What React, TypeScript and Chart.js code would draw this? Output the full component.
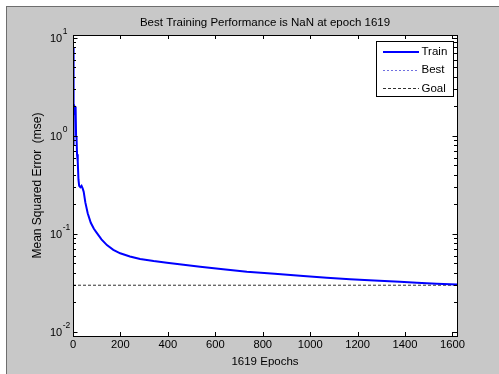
import React, { useEffect, useRef } from 'react';
import { Chart, registerables } from 'chart.js';

Chart.register(...registerables);

// ---- data ----
const trainEpochs = [0, 1, 2, 3, 4, 6, 9, 11, 13, 15, 17, 20, 23, 26, 31, 36, 41, 45, 52, 62, 75, 88, 101, 120, 143, 170, 199, 240, 283, 340, 396, 466, 536, 633, 733, 850, 971, 1070, 1168, 1270, 1378, 1450, 1533, 1619];
const trainPerf = [8.0, 3.0, 1.5, 0.8, 1.6, 2.0, 1.9, 2.0, 1.0, 0.95, 0.65, 0.55, 0.36, 0.31, 0.30, 0.31, 0.29, 0.27, 0.21, 0.163, 0.13, 0.113, 0.102, 0.088, 0.077, 0.069, 0.0635, 0.059, 0.0556, 0.053, 0.051, 0.0485, 0.0464, 0.0437, 0.0412, 0.0392, 0.0373, 0.0358, 0.0345, 0.0335, 0.0325, 0.0318, 0.0311, 0.0306];
const goalValue = 0.03;
const totalEpochs = 1619;
const xTickValues = [0, 200, 400, 600, 800, 1000, 1200, 1400, 1600];
const yMajorTicks = [0.01, 0.1, 1, 10];
const yTickExponents = ['-2', '-1', '0', '1'];
const yMin = 0.0091;
const yMax = 10.73;
const legendLabels = ['Train', 'Best', 'Goal'];
const titleText = 'Best Training Performance is NaN at epoch 1619';
const xTitle = '1619 Epochs';
const yTitle = 'Mean Squared Error  (mse)';

const FONT = '"Liberation Sans", Arial, Helvetica, sans-serif';
const TRAIN_COLOR = '#0000ff';
const BEST_COLOR = '#7070e0';
const GOAL_COLOR = '#303030';

const matlabPlugin = {
  id: 'matlabAxes',
  beforeDraw(chart: any) {
    const { ctx, chartArea: a } = chart;
    ctx.save();
    ctx.fillStyle = '#ffffff';
    ctx.fillRect(a.left, a.top, a.right - a.left, a.bottom - a.top);
    ctx.restore();
  },
  afterDraw(chart: any) {
    const { ctx, chartArea: a } = chart;
    const xs = chart.scales.x;
    const ys = chart.scales.y;
    ctx.save();
    ctx.strokeStyle = '#000000';
    ctx.lineWidth = 1;
    ctx.beginPath();
    xTickValues.forEach((v) => {
      const px = Math.round(xs.getPixelForValue(v)) + 0.5;
      ctx.moveTo(px, a.bottom);
      ctx.lineTo(px, a.bottom - 4);
      ctx.moveTo(px, a.top);
      ctx.lineTo(px, a.top + 4);
    });
    const minors: number[] = [];
    yMajorTicks.slice(0, 3).forEach((d) => {
      for (let k = 2; k <= 9; k++) minors.push(d * k);
    });
    yMajorTicks.forEach((v) => {
      const py = Math.round(ys.getPixelForValue(v)) + 0.5;
      ctx.moveTo(a.left, py);
      ctx.lineTo(a.left + 4.5, py);
      ctx.moveTo(a.right, py);
      ctx.lineTo(a.right - 4.5, py);
    });
    minors.forEach((v) => {
      const py = Math.round(ys.getPixelForValue(v)) + 0.5;
      ctx.moveTo(a.left, py);
      ctx.lineTo(a.left + 3, py);
      ctx.moveTo(a.right, py);
      ctx.lineTo(a.right - 3, py);
    });
    ctx.stroke();
    ctx.strokeRect(Math.round(a.left) + 0.5, Math.round(a.top) + 0.5, Math.round(a.right - a.left), Math.round(a.bottom - a.top));

    // y tick labels 10^n
    ctx.fillStyle = '#000000';
    ctx.textBaseline = 'middle';
    ctx.textAlign = 'left';
    yMajorTicks.forEach((v, i) => {
      const py = ys.getPixelForValue(v);
      ctx.font = `11px ${FONT}`;
      ctx.fillText('10', 50, py + 1);
      const w = ctx.measureText('10').width;
      ctx.font = `8.5px ${FONT}`;
      ctx.fillText(yTickExponents[i], 50 + w + 0.5, py - 6);
    });

    // legend
    const bw = 77;
    const bh = 55;
    const bx = Math.round(a.right - 4.5 - bw) + 0.5;
    const by = Math.round(a.top + 6) + 0.5;
    ctx.fillStyle = '#ffffff';
    ctx.fillRect(bx, by, bw, bh);
    ctx.strokeStyle = '#000000';
    ctx.lineWidth = 1;
    ctx.strokeRect(bx, by, bw, bh);
    const ds = chart.data.datasets;
    legendLabels.forEach((label, i) => {
      const rowY = by + 10 + i * 18.2;
      const d = ds[i];
      ctx.save();
      ctx.strokeStyle = d.borderColor;
      ctx.lineWidth = d.borderWidth;
      ctx.setLineDash(d.borderDash || []);
      ctx.beginPath();
      const yy = Math.round(rowY) + (d.borderWidth === 2 ? 0 : 0.5);
      ctx.moveTo(bx + 6.5, yy);
      ctx.lineTo(bx + 42.5, yy);
      ctx.stroke();
      ctx.restore();
      ctx.fillStyle = '#000000';
      ctx.font = `11.5px ${FONT}`;
      ctx.textBaseline = 'middle';
      ctx.fillText(label, bx + 45, rowY + 0.5);
    });
    ctx.restore();
  },
};

export default function App() {
  const canvasRef = useRef<HTMLCanvasElement | null>(null);

  useEffect(() => {
    const canvas = canvasRef.current;
    if (!canvas) return;
    const trainData = trainEpochs.map((e, i) => ({ x: e, y: trainPerf[i] }));
    const goalData = [
      { x: 0, y: goalValue },
      { x: totalEpochs, y: goalValue },
    ];
    const chart = new Chart(canvas, {
      type: 'line',
      data: {
        datasets: [
          {
            label: legendLabels[0],
            data: trainData,
            borderColor: TRAIN_COLOR,
            borderWidth: 2,
            pointRadius: 0,
            tension: 0,
            fill: false,
          },
          {
            label: legendLabels[1],
            data: [],
            borderColor: BEST_COLOR,
            borderWidth: 1,
            borderDash: [2, 2],
            pointRadius: 0,
            fill: false,
          },
          {
            label: legendLabels[2],
            data: goalData,
            borderColor: GOAL_COLOR,
            borderWidth: 1,
            borderDash: [3, 2],
            pointRadius: 0,
            fill: false,
          },
        ],
      },
      options: {
        animation: false,
        responsive: false,
        maintainAspectRatio: false,
        devicePixelRatio: 1,
        layout: { padding: { left: 0, right: 42, top: 0, bottom: 0 } },
        plugins: {
          legend: { display: false },
          tooltip: { enabled: false },
          title: {
            display: true,
            text: titleText,
            fullSize: false,
            color: '#000000',
            font: { family: FONT, size: 11.5, weight: 'normal' },
            padding: { top: 16, bottom: 5.2 },
          },
        },
        scales: {
          x: {
            type: 'linear',
            min: 0,
            max: totalEpochs,
            grid: { display: false, drawTicks: false },
            border: { display: false },
            afterBuildTicks: (scale: any) => {
              scale.ticks = xTickValues.map((v) => ({ value: v }));
            },
            afterFit: (scale: any) => {
              scale.height = 38;
            },
            ticks: {
              autoSkip: false,
              maxRotation: 0,
              color: '#000000',
              padding: 2.5,
              font: { family: FONT, size: 11.2 },
              callback: (v: any) => String(v),
            },
            title: {
              display: true,
              text: xTitle,
              color: '#000000',
              font: { family: FONT, size: 11.5 },
              padding: { top: 0, bottom: 5.5 },
            },
          },
          y: {
            type: 'logarithmic',
            min: yMin,
            max: yMax,
            grid: { display: false, drawTicks: false },
            border: { display: false },
            afterBuildTicks: (scale: any) => {
              scale.ticks = yMajorTicks.map((v) => ({ value: v }));
            },
            afterFit: (scale: any) => {
              scale.width = 73;
            },
            ticks: {
              callback: () => '',
            },
            title: {
              display: true,
              text: yTitle,
              color: '#000000',
              font: { family: FONT, size: 12 },
              padding: { top: 30, bottom: 0 },
            },
          },
        },
      },
      plugins: [matlabPlugin],
    } as any);
    return () => {
      chart.destroy();
    };
  }, []);

  return (
    <div style={{ position: 'fixed', left: 0, top: 0, width: 499, height: 374, background: '#ffffff', overflow: 'hidden' }}>
      <div
        style={{
          position: 'absolute',
          left: 6,
          top: 6,
          right: 0,
          bottom: 0,
          background: '#c8c8c8',
          borderLeft: '1px solid #6e6e6e',
          borderTop: '1px solid #6e6e6e',
        }}
      />
      <canvas ref={canvasRef} width={499} height={374} style={{ position: 'absolute', left: 0, top: 0, width: 499, height: 374 }} />
    </div>
  );
}
